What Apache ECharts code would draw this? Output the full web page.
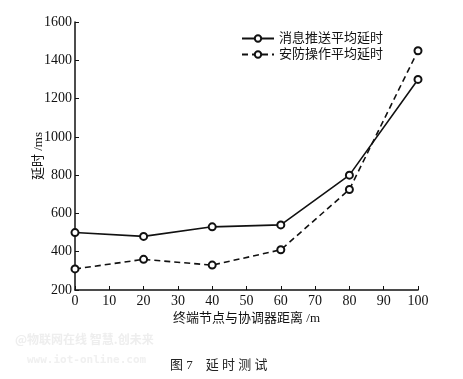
<!DOCTYPE html>
<html><head><meta charset="utf-8">
<script src="https://cdn.jsdelivr.net/npm/echarts@6/dist/echarts.min.js"></script>
<style>html,body{margin:0;padding:0;background:#fff}#c{width:463px;height:379px}</style>
</head><body><div id="c"></div>
<script>
var xValues = [0, 20, 40, 60, 80, 100];
var msgPushDelay = [500, 480, 530, 540, 800, 1300];
var securityOpDelay = [310, 360, 330, 410, 725, 1450];
var seriesNames = ['消息推送平均延时', '安防操作平均延时'];
var xAxisName = '终端节点与协调器距离 /m';
var yAxisName = '延时 /ms';
var caption = '图 7    延 时 测 试';

var serif = '"Liberation Serif", "Noto Sans CJK SC", serif';
var chart = echarts.init(document.getElementById('c'));
function pairs(xs, ys){ return xs.map(function(x,i){return [x, ys[i]];}); }
chart.setOption({
  animation: false,
  backgroundColor: '#fff',
  grid: {left: 75, right: 45, top: 22, bottom: 89},
  legend: {
    orient: 'vertical', left: 236, top: 27, itemGap: 3,
    itemWidth: 32, itemHeight: 8,
    textStyle: {fontFamily: serif, fontSize: 13, color: '#111'},
    data: seriesNames
  },
  xAxis: {
    type: 'value', min: 0, max: 100, interval: 10,
    name: xAxisName, nameLocation: 'middle', nameGap: 22, nameMoveOverlap: false,
    nameTextStyle: {fontFamily: serif, fontSize: 13, color: '#111'},
    axisLine: {lineStyle: {color: '#111', width: 1.5}},
    axisTick: {inside: true, length: 4, lineStyle: {color: '#111'}},
    axisLabel: {fontFamily: serif, fontSize: 14, color: '#111', margin: 4, formatter: function(v){return String(v);}},
    splitLine: {show: false}
  },
  yAxis: {
    type: 'value', min: 200, max: 1600, interval: 200,
    name: yAxisName, nameLocation: 'middle', nameGap: 30, nameRotate: 90, nameMoveOverlap: false,
    nameTextStyle: {fontFamily: serif, fontSize: 13, color: '#111'},
    axisLine: {show: true, lineStyle: {color: '#111', width: 1.5}},
    axisTick: {show: true, inside: true, length: 4, lineStyle: {color: '#111'}},
    axisLabel: {fontFamily: serif, fontSize: 14, color: '#111', margin: 3, formatter: function(v){return String(v);}},
    splitLine: {show: false}
  },
  series: [
    {name: seriesNames[0], type: 'line', data: pairs(xValues, msgPushDelay),
     symbol: 'emptyCircle', symbolSize: 7,
     lineStyle: {color: '#111', width: 1.6, type: 'solid'},
     itemStyle: {color: '#111', borderWidth: 1.2}},
    {name: seriesNames[1], type: 'line', data: pairs(xValues, securityOpDelay),
     symbol: 'emptyCircle', symbolSize: 7,
     lineStyle: {color: '#111', width: 1.6, type: [6, 4]},
     itemStyle: {color: '#111', borderWidth: 1.2}}
  ],
  graphic: [
    {type: 'text', left: 15, top: 333, style: {text: '@物联网在线 智慧.创未来', fill: '#eeeeee', font: 'bold 12px "Noto Sans CJK SC"'}},
    {type: 'text', left: 27, top: 355, style: {text: 'www.iot-online.com', fill: '#f0f0f0', font: 'bold 11px "DejaVu Sans Mono"'}},
    {type: 'text', left: 170, top: 359, style: {text: caption, fill: '#222', font: '13px "Liberation Serif", "Noto Sans CJK SC"'}}
  ]
});
</script></body></html>
